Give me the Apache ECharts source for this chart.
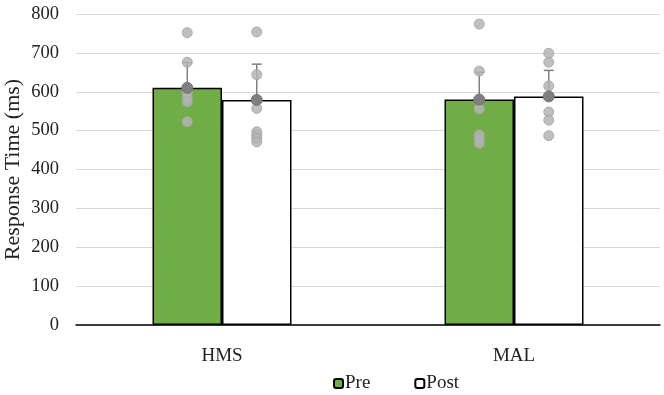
<!DOCTYPE html>
<html><head><meta charset="utf-8">
<script src="https://cdn.jsdelivr.net/npm/echarts@6/dist/echarts.min.js"></script>
<style>html,body{margin:0;padding:0;background:#fff}#c{width:664px;height:395px}</style>
</head><body><div id="c"></div>
<script>
var categories = ['HMS', 'MAL'];
var seriesNames = ['Pre', 'Post'];
var preMean = [610, 580];
var postMean = [579, 588];
var preSD = [65, 70];
var postSD = [92, 67];
var prePoints = [[752, 676, 597, 586, 574, 523], [774, 653, 556, 489, 478, 467]];
var postPoints = [[754, 644, 557, 497, 488, 480, 471], [699, 676, 615, 548, 527, 487]];
var yTicks = [0, 100, 200, 300, 400, 500, 600, 700, 800];

var BAR_FRAC = 0.238; // each bar's share of the category band
function flat(pts, side) {
  var out = [];
  pts.forEach(function (arr, ci) { arr.forEach(function (v) { out.push([ci, v, side]); }); });
  return out;
}
function centerX(api, ci, v, side) {
  var p = api.coord([ci, v]);
  var band = api.size([1, 0])[0];
  return [p[0] + (side === 0 ? -1 : 1) * band * BAR_FRAC / 2, p[1]];
}
var meanData = [];
var errData = [];
categories.forEach(function (c, ci) {
  meanData.push([ci, preMean[ci], 0]);
  meanData.push([ci, postMean[ci], 1]);
  errData.push([ci, preMean[ci], 0, preMean[ci] + preSD[ci]]);
  errData.push([ci, postMean[ci], 1, postMean[ci] + postSD[ci]]);
});

var chart = echarts.init(document.getElementById('c'));
chart.setOption({
  animation: false,
  textStyle: { fontFamily: 'Liberation Serif' },
  grid: { left: 76, right: 4, top: 14, bottom: 70, containLabel: false, outerBoundsMode: 'none' },
  legend: {
    data: seriesNames,
    left: 328, top: 369,
    itemWidth: 9, itemHeight: 9, itemGap: 44,
    textStyle: { fontFamily: 'Liberation Serif', fontSize: 19, color: '#222', padding: [0, 0, 0, -3] }
  },
  xAxis: {
    type: 'category', data: categories,
    axisLine: { lineStyle: { color: '#000', width: 1.5 } },
    axisTick: { show: false },
    axisLabel: { fontFamily: 'Liberation Serif', fontSize: 19, color: '#222', margin: 22 }
  },
  yAxis: {
    type: 'value', min: 0, max: 800, interval: 100,
    name: 'Response Time (ms)', nameLocation: 'middle', nameGap: 52, nameMoveOverlap: false,
    nameTextStyle: { fontFamily: 'Liberation Serif', fontSize: 22, color: '#222' },
    axisLine: { show: false }, axisTick: { show: false },
    axisLabel: { fontFamily: 'Liberation Serif', fontSize: 18.5, color: '#222', margin: 17,
      formatter: function (v) { return yTicks.indexOf(v) >= 0 ? String(v) : ''; } },
    splitLine: { lineStyle: { color: '#d9d9d9', width: 1.2 } }
  },
  series: [
    { name: 'Pre', type: 'bar', data: preMean, barGap: '0%', barCategoryGap: '52.4%',
      itemStyle: { color: '#70ad47', borderColor: '#000', borderWidth: 1.5 }, z: 2 },
    { name: 'Post', type: 'bar', data: postMean, barGap: '0%', barCategoryGap: '52.4%',
      itemStyle: { color: '#ffffff', borderColor: '#000', borderWidth: 1.5 }, z: 2 },
    { type: 'custom', data: errData, z: 3, silent: true,
      renderItem: function (params, api) {
        var ci = api.value(0), m = api.value(1), s = api.value(2), top = api.value(3);
        var a = centerX(api, ci, m, s), b = centerX(api, ci, top, s);
        return { type: 'group', children: [
          { type: 'line', shape: { x1: a[0], y1: a[1], x2: b[0], y2: b[1] }, style: { stroke: '#7f7f7f', lineWidth: 1.5 } },
          { type: 'line', shape: { x1: b[0] - 5, y1: b[1], x2: b[0] + 5, y2: b[1] }, style: { stroke: '#7f7f7f', lineWidth: 1.5 } }
        ] };
      } },
    { type: 'custom', data: flat(prePoints, 0).concat(flat(postPoints, 1)), z: 4, silent: true,
      renderItem: function (params, api) {
        var p = centerX(api, api.value(0), api.value(1), api.value(2));
        return { type: 'circle', shape: { cx: p[0], cy: p[1], r: 5 },
          style: { fill: '#b4b4b4', stroke: '#a6a6a6', lineWidth: 1, opacity: 0.85 } };
      } },
    { type: 'custom', data: meanData, z: 5, silent: true,
      renderItem: function (params, api) {
        var p = centerX(api, api.value(0), api.value(1), api.value(2));
        return { type: 'circle', shape: { cx: p[0], cy: p[1], r: 5.5 },
          style: { fill: '#7f7f7f', stroke: '#767676', lineWidth: 1 } };
      } }
  ]
});
</script></body></html>
